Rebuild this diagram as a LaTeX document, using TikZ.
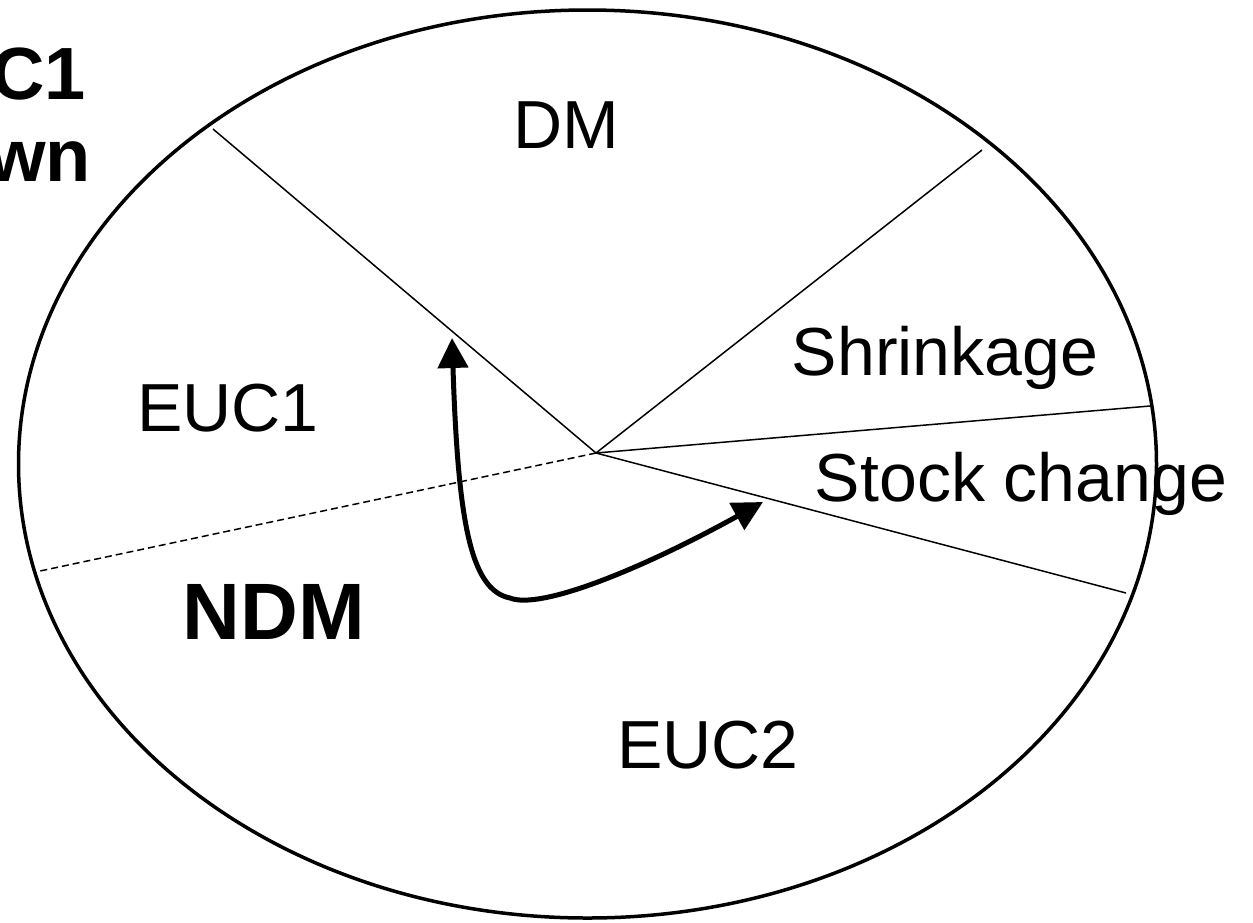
\documentclass[tikz,border=0pt]{standalone}
\usepackage{fontspec}
\setmainfont{Liberation Sans}
\usetikzlibrary{arrows.meta}
\begin{document}
\begin{tikzpicture}[x=1pt,y=-1pt,
  lbl/.style={inner sep=0pt,font=\fontsize{68}{72}\selectfont},
  blbl/.style={inner sep=0pt,font=\fontsize{80}{84}\selectfont\bfseries},
  clbl/.style={inner sep=0pt,font=\fontsize{74}{78}\selectfont\bfseries},
  divider/.style={line width=1.5pt},
  bigarrow/.style={line width=5pt,{Triangle[length=30pt,width=30pt]}-{Triangle[length=30pt,width=30pt]}}]
\useasboundingbox (0,0) rectangle (1253,922);
\draw[line width=3.5pt] (587.5,464) ellipse [x radius=569, y radius=454];
\coordinate (c) at (596,453);
\coordinate (p1) at (213,129);
\coordinate (p2) at (982,150);
\coordinate (p3) at (1150,406);
\coordinate (p4) at (1126,593);
\coordinate (p5) at (40,571);
\draw[divider] (p1) -- (c) -- (p2);
\draw[divider] (c) -- (p3);
\draw[divider] (c) -- (p4);
\draw[divider,dash pattern=on 7pt off 4pt] (c) -- (p5);
\coordinate (a0) at (763,502);
\coordinate (a1) at (452,338);
\draw[bigarrow] (a0) .. controls (640,570) and (540,610) .. (510,598)
  .. controls (470,590) and (458,520) .. (a1);
\node[lbl] (dm) at (566,125) {DM};
\node[lbl] (euc1) at (228,408) {EUC1};
\node[lbl] (shr) at (945,358) {Shrinkage};
\node[lbl] (stk) at (1021,484) {Stock change};
\node[blbl] (ndm) at (274,612) {NDM};
\node[lbl] (euc2) at (708,745) {EUC2};
\node[clbl,anchor=base east] (c1) at (86,99) {C1};
\node[clbl,anchor=base east] (wn) at (91,181) {wn};
\end{tikzpicture}
\end{document}
